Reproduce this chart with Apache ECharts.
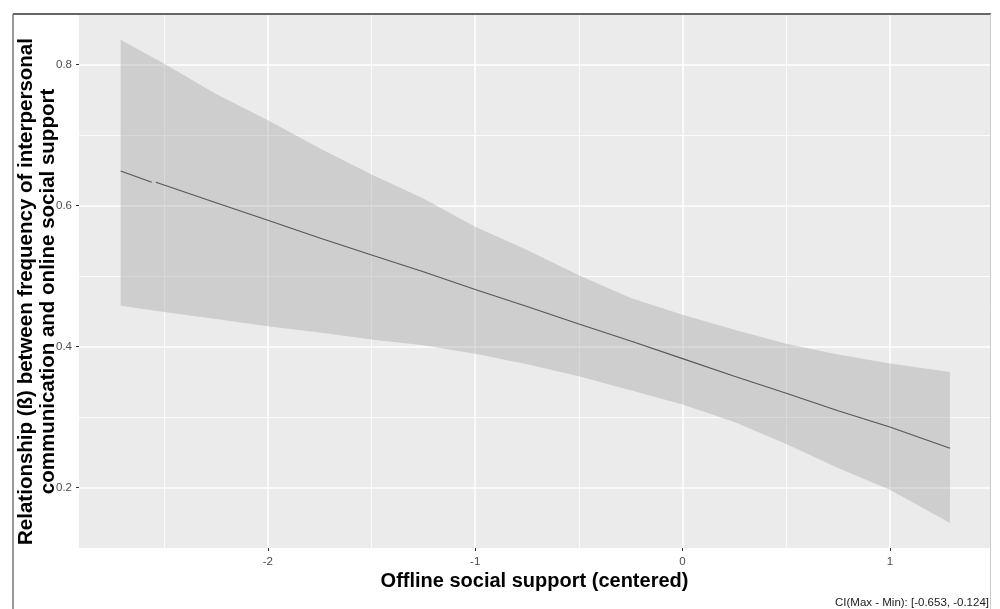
<!DOCTYPE html>
<html>
<head>
<meta charset="utf-8">
<script src="https://cdn.jsdelivr.net/npm/echarts@6/dist/echarts.min.js"></script>
<style>
html,body{margin:0;padding:0;background:#fff;}
#chart{width:1000px;height:609px;}
</style>
</head>
<body>
<div id="chart"></div>
<script>
// ---- data ----
const xTitle = 'Offline social support (centered)';
const yTitle = 'Relationship (ß) between frequency of interpersonal\ncommunication and online social support';
const caption = 'CI(Max - Min): [-0.653, -0.124]';

const xMajorTicks = [-2, -1, 0, 1];
const xMinorTicks = [-2.5, -1.5, -0.5, 0.5];
const yMajorTicks = [0.2, 0.4, 0.6, 0.8];
const yMinorTicks = [0.3, 0.5, 0.7];
const X_MIN = -2.911, X_MAX = 1.483;
const Y_MIN = 0.1146, Y_MAX = 0.870;

// confidence band
const bandX     = [-2.71, -2.5, -2.25, -2.0, -1.75, -1.5, -1.25, -1.0, -0.75, -0.5, -0.25, 0, 0.25, 0.5, 0.75, 1.0, 1.29];
const bandUpper = [0.835, 0.801, 0.758, 0.721, 0.681, 0.644, 0.610, 0.570, 0.537, 0.501, 0.469, 0.445, 0.424, 0.404, 0.389, 0.376, 0.364];
const bandLower = [0.458, 0.449, 0.439, 0.429, 0.420, 0.410, 0.402, 0.390, 0.375, 0.358, 0.338, 0.318, 0.293, 0.262, 0.228, 0.197, 0.150];

// fitted line (drawn in two pieces, there is a tiny break near x = -2.55)
const fitX1 = [-2.71, -2.56];
const fitY1 = [0.649, 0.633];
const fitX2 = [-2.54, -2.25, -2.0, -1.75, -1.5, -1.25, -1.0, -0.75, -0.5, -0.25, 0, 0.25, 0.5, 0.75, 1.0, 1.29];
const fitY2 = [0.633, 0.604, 0.579, 0.554, 0.530, 0.506, 0.481, 0.457, 0.432, 0.408, 0.383, 0.358, 0.334, 0.309, 0.286, 0.256];

// ---- chart ----
const FONT = "'Liberation Sans', Arial, sans-serif";
const chart = echarts.init(document.getElementById('chart'), null, {renderer: 'canvas'});
const pair = (xs, ys) => xs.map((x, i) => [x, ys[i]]);

const option = {
  animation: false,
  backgroundColor: '#ffffff',
  textStyle: {fontFamily: FONT},
  grid: {left: 79, right: 10, top: 15, bottom: 61, show: true, backgroundColor: '#EBEBEB', borderWidth: 0,
         containLabel: false, outerBoundsMode: 'none'},
  xAxis: [
    {
      type: 'value', min: X_MIN, max: X_MAX, position: 'bottom',
      axisLine: {show: false, onZero: false},
      axisTick: {show: true, length: 3, lineStyle: {color: '#333333', width: 1}, customValues: xMajorTicks},
      axisLabel: {customValues: xMajorTicks, color: '#4D4D4D', fontSize: 11.5, fontFamily: FONT, margin: 8,
                  formatter: v => String(v)},
      splitLine: {show: true, lineStyle: {color: '#ffffff', width: 1.5}},
      name: xTitle, nameLocation: 'middle', nameGap: 23, nameMoveOverlap: false,
      nameTextStyle: {fontSize: 20, fontWeight: 'bold', color: '#000000', fontFamily: FONT}
    },
    {
      type: 'value', min: X_MIN, max: X_MAX, position: 'top',
      axisLine: {show: false, onZero: false},
      axisTick: {show: false, customValues: xMinorTicks},
      axisLabel: {show: false, customValues: xMinorTicks},
      splitLine: {show: true, lineStyle: {color: '#ffffff', width: 0.8}}
    }
  ],
  yAxis: [
    {
      type: 'value', min: Y_MIN, max: Y_MAX, position: 'left',
      axisLine: {show: false, onZero: false},
      axisTick: {show: true, length: 3, lineStyle: {color: '#333333', width: 1}, customValues: yMajorTicks},
      axisLabel: {customValues: yMajorTicks, color: '#4D4D4D', fontSize: 11.5, fontFamily: FONT, margin: 7,
                  formatter: v => v.toFixed(1)},
      splitLine: {show: true, lineStyle: {color: '#ffffff', width: 1.5}},
      name: yTitle, nameLocation: 'middle', nameGap: 20, nameRotate: 90, nameMoveOverlap: false,
      nameTextStyle: {fontSize: 20.5, fontWeight: 'bold', color: '#000000', fontFamily: FONT, lineHeight: 22,
                      align: 'center', padding: [0, 20, 0, 0]}
    },
    {
      type: 'value', min: Y_MIN, max: Y_MAX, position: 'right',
      axisLine: {show: false, onZero: false},
      axisTick: {show: false, customValues: yMinorTicks},
      axisLabel: {show: false, customValues: yMinorTicks},
      splitLine: {show: true, lineStyle: {color: '#ffffff', width: 0.8}}
    }
  ],
  series: [
    {
      type: 'custom', name: 'CI', silent: true, z: 2, clip: true,
      xAxisIndex: 0, yAxisIndex: 0,
      data: [[bandX[0], bandLower[0]]],
      renderItem: function (params, api) {
        const pts = [];
        for (let i = 0; i < bandX.length; i++) pts.push(api.coord([bandX[i], bandUpper[i]]));
        for (let i = bandX.length - 1; i >= 0; i--) pts.push(api.coord([bandX[i], bandLower[i]]));
        return {type: 'polygon', shape: {points: pts}, style: {fill: 'rgba(153,153,153,0.35)', stroke: null}};
      }
    },
    {
      type: 'line', name: 'fit1', z: 3, xAxisIndex: 0, yAxisIndex: 0,
      data: pair(fitX1, fitY1), showSymbol: false, silent: true,
      lineStyle: {color: '#555555', width: 1.1}
    },
    {
      type: 'line', name: 'fit2', z: 3, xAxisIndex: 0, yAxisIndex: 0,
      data: pair(fitX2, fitY2), showSymbol: false, silent: true,
      lineStyle: {color: '#555555', width: 1.1}
    }
  ],
  graphic: [
    {type: 'line', shape: {x1: 13, y1: 14, x2: 991, y2: 14}, style: {stroke: '#333333', lineWidth: 1.5}, silent: true},
    {type: 'line', shape: {x1: 13, y1: 14, x2: 13, y2: 609}, style: {stroke: '#555555', lineWidth: 1.2}, silent: true},
    {type: 'line', shape: {x1: 990.5, y1: 14, x2: 990.5, y2: 609}, style: {stroke: '#cccccc', lineWidth: 1}, silent: true},
    {type: 'text', silent: true,
     style: {text: caption, x: 989, y: 603, align: 'right', verticalAlign: 'middle',
             font: "11.5px 'Liberation Sans', Arial, sans-serif", fill: '#1a1a1a'}}
  ]
};
chart.setOption(option);
</script>
</body>
</html>
